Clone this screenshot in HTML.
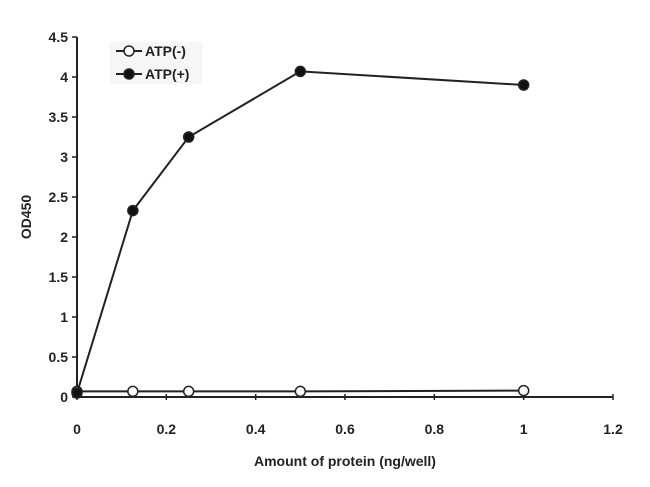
<!DOCTYPE html>
<html><head><meta charset="utf-8"><style>
body{margin:0;background:#fff;}
svg{display:block;font-family:"Liberation Sans",Arial,sans-serif;font-weight:bold;}
</style></head><body>
<svg id="chart" width="650" height="487" viewBox="0 0 650 487"></svg>
<script>
const xValues=[0,0.125,0.25,0.5,1];
const atpMinus=[0.07,0.07,0.07,0.07,0.08];
const atpPlus=[0.05,2.33,3.25,4.07,3.9];
const xTicks=[0,0.2,0.4,0.6,0.8,1,1.2];
const yTicks=[0,0.5,1,1.5,2,2.5,3,3.5,4,4.5];
const yTickLabels=["0","0.5","1","1.5","2","2.5","3","3.5","4","4.5"];
const X0=77,X1=613,Y0=397,Y1=37;
const sx=v=>X0+v/1.2*(X1-X0);
const sy=v=>Y0-v/4.5*(Y0-Y1);
const svg=document.getElementById('chart');
const NS='http://www.w3.org/2000/svg';
function mk(t,a,name){const e=document.createElementNS(NS,t);for(const k in a)e.setAttribute(k,a[k]);


svg.appendChild(e);return e;}
mk('rect',{x:110,y:42,width:92,height:42,fill:'#f6f6f6'},'legend-box');
mk('line',{x1:X0,y1:Y0,x2:X1,y2:Y0,stroke:'#222','stroke-width':2},'x-axis');
mk('line',{x1:X0,y1:Y0,x2:X0,y2:Y1,stroke:'#222','stroke-width':2},'y-axis');
xTicks.forEach((v,i)=>{
 mk('line',{x1:sx(v),y1:Y0-3,x2:sx(v),y2:Y0+3,stroke:'#222','stroke-width':1.5},'x-tick');
 const t=mk('text',{x:sx(v),y:Y0+37,'text-anchor':'middle','font-size':14,fill:'#222'},'x-tick-label');t.textContent=String(v);
});
yTicks.forEach((v,i)=>{
 mk('line',{x1:X0-5,y1:sy(v),x2:X0,y2:sy(v),stroke:'#222','stroke-width':1.5},'y-tick');
 const t=mk('text',{x:X0-9,y:sy(v)+5,'text-anchor':'end','font-size':14,fill:'#222'},'y-tick-label');t.textContent=yTickLabels[i];
});
let t=mk('text',{x:345,y:466,'text-anchor':'middle','font-size':14,fill:'#222'},'x-axis-title');t.textContent='Amount of protein (ng/well)';
t=mk('text',{x:0,y:0,'text-anchor':'middle','font-size':14,fill:'#222',transform:'translate(31,217) rotate(-90)'},'y-axis-title');t.textContent='OD450';
function series(vals,fill,name){
 mk('polyline',{points:xValues.map((x,i)=>sx(x)+','+sy(vals[i])).join(' '),fill:'none',stroke:'#222','stroke-width':2},name+'-line');
 xValues.forEach((x,i)=>mk('circle',{cx:sx(x),cy:sy(vals[i]),r:5,fill:fill,stroke:'#222','stroke-width':1.5},name+'-point'));
}
series(atpMinus,'#fff','atp-minus');
series(atpPlus,'#111','atp-plus');
mk('line',{x1:116,y1:51,x2:142,y2:51,stroke:'#222','stroke-width':2},'legend-atp-minus-line');
mk('circle',{cx:129,cy:51,r:5,fill:'#fff',stroke:'#222','stroke-width':1.5},'legend-atp-minus-marker');
t=mk('text',{x:145,y:56,'font-size':14,fill:'#222'},'legend-atp-minus-label');t.textContent='ATP(-)';
mk('line',{x1:116,y1:74,x2:142,y2:74,stroke:'#222','stroke-width':2},'legend-atp-plus-line');
mk('circle',{cx:129,cy:74,r:5,fill:'#111',stroke:'#222','stroke-width':1.5},'legend-atp-plus-marker');
t=mk('text',{x:145,y:79,'font-size':14,fill:'#222'},'legend-atp-plus-label');t.textContent='ATP(+)';
</script>
</body></html>
